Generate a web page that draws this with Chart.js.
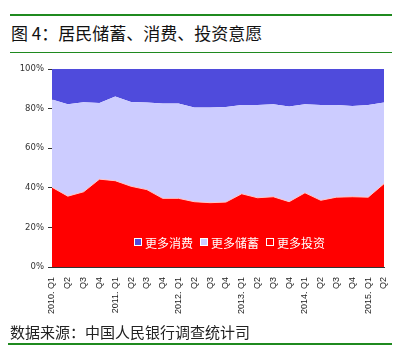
<!DOCTYPE html>
<html>
<head>
<meta charset="utf-8">
<script src="https://cdn.jsdelivr.net/npm/chart.js@4"></script>
<style>
    body { margin: 0; background: #fff; width: 411px; height: 364px; overflow: hidden; position: relative; font-family: "Noto Sans CJK SC", sans-serif; }
    .rule { position: absolute; left: 10px; width: 382px; background: #1f8a1f; }
    .title { position: absolute; left: 11px; top: 21px; font-size: 17px; line-height: 24px; color: #111; white-space: nowrap; }
    .source { position: absolute; left: 10px; top: 321px; font-size: 15px; line-height: 22px; color: #222; white-space: nowrap; }
    #wrap { position: absolute; left: 0; top: 60px; width: 411px; height: 268px; }
    .legend { position: absolute; top: 233px; left: 134px; height: 18px; display: flex; align-items: center; color: #fff; font-size: 12px; white-space: nowrap; }
    .legend span.box { display: inline-block; width: 6px; height: 6px; border: 1px solid #fff; margin-right: 3px; }
    .legend span.item { display: flex; align-items: center; margin-right: 7px; }
</style>
</head>
<body>
<div class="rule" style="top:14px;height:2px"></div>
<div class="title">图 4：居民储蓄、消费、投资意愿</div>
<div class="rule" style="top:52px;height:1px"></div>
<div id="wrap"><canvas id="areaChart"></canvas></div>
<div class="legend" id="legend"></div>
<div class="source">数据来源：中国人民银行调查统计司</div>
<div class="rule" style="top:343px;height:2px;left:8px;width:384px"></div>
<script>
// 季度标签
const quarters = ['2010. Q1', 'Q2', 'Q3', 'Q4', '2011. Q1', 'Q2', 'Q3', 'Q4', '2012. Q1', 'Q2', 'Q3', 'Q4',
    '2013. Q1', 'Q2', 'Q3', 'Q4', '2014. Q1', 'Q2', 'Q3', 'Q4', '2015. Q1', 'Q2'];

// 三个系列（%），自下而上堆叠
const savings = [40.3, 35.8, 38.0, 44.4, 43.6, 40.8, 39.1, 34.7, 34.7, 33.0, 32.5,
    32.8, 37.0, 35.0, 35.5, 33.0, 37.5, 33.7, 35.3, 35.5, 35.3, 42.1];
const investment = [44.4, 46.5, 45.3, 38.5, 42.5, 42.6, 44.0, 47.9, 47.9, 47.6, 48.1,
    48.1, 44.8, 46.9, 46.8, 48.1, 44.8, 48.1, 46.5, 45.9, 46.5, 41.0];
const consumption = [15.3, 17.7, 16.7, 17.1, 13.9, 16.6, 16.9, 17.4, 17.4, 19.4, 19.4,
    19.1, 18.2, 18.1, 17.7, 18.9, 17.7, 18.2, 18.2, 18.6, 18.2, 16.9];

// 纵轴刻度
const yTicks = ['0%', '20%', '40%', '60%', '80%', '100%'];

// 图例（与原图一致）
const legendNames = ['更多消费', '更多储蓄', '更多投资'];
const legendColors = ['#4f4bdc', '#ccccff', '#ff0000'];

const legendEl = document.getElementById('legend');
legendNames.forEach((name, i) => {
    const item = document.createElement('span');
    item.className = 'item';
    item.innerHTML = '<span class="box" style="background:' + legendColors[i] + '"></span>' + name;
    legendEl.appendChild(item);
});

new Chart(document.getElementById('areaChart'), {
    type: 'line',
    data: {
        labels: quarters,
        datasets: [
            { label: '储蓄', data: savings, backgroundColor: '#ff0000', borderColor: '#ffc8c8', borderWidth: 1, fill: 'origin' },
            { label: '投资', data: investment, backgroundColor: '#ccccff', borderColor: '#ccccff', borderWidth: 0, fill: '-1' },
            { label: '消费', data: consumption, backgroundColor: '#4f4bdc', borderColor: '#4f4bdc', borderWidth: 0, fill: '-1' }
        ]
    },
    options: {
        responsive: true,
        maintainAspectRatio: false,
        animation: false,
        layout: { padding: { top: 6, right: 27, left: 0, bottom: 0 } },
        elements: { point: { radius: 0 }, line: { tension: 0 } },
        plugins: { legend: { display: false }, tooltip: { enabled: false } },
        scales: {
            x: {
                offset: false,
                grid: { drawOnChartArea: false, drawTicks: false },
                border: { color: '#333' },
                ticks: {
                    autoSkip: false,
                    minRotation: 90,
                    maxRotation: 90,
                    padding: 10,
                    color: '#222',
                    font: { family: 'Liberation Sans', size: 9 }
                },
                afterFit: function(scale) { scale.height = 61; }
            },
            y: {
                stacked: true,
                min: 0,
                max: 100,
                grid: { drawOnChartArea: false, tickLength: 4, color: '#333' },
                border: { color: '#333' },
                ticks: {
                    stepSize: 20,
                    padding: 4,
                    color: '#333',
                    font: { family: 'DejaVu Sans', size: 8.5 },
                    callback: function(value) { return yTicks[value / 20]; }
                },
                afterFit: function(scale) { scale.width = 52; }
            }
        }
    }
});
</script>
</body>
</html>
